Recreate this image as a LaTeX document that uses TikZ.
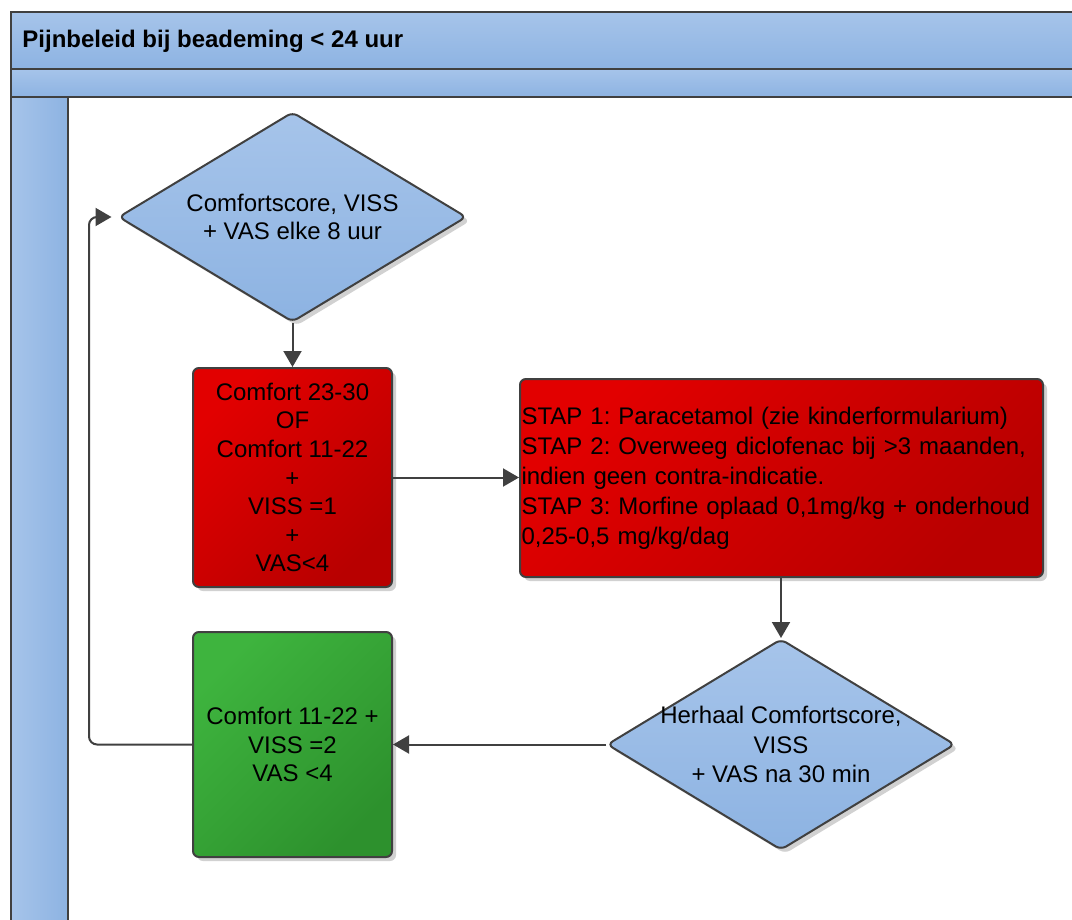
\documentclass[tikz,border=0pt]{standalone}
\usepackage{fontspec}
\setmainfont{Liberation Sans}
\usetikzlibrary{shapes.geometric,arrows.meta,shadows}
\definecolor{linegray}{RGB}{64,64,64}
\definecolor{bandtop}{RGB}{166,196,234}
\definecolor{bandbot}{RGB}{141,179,226}
\definecolor{redtop}{RGB}{226,0,0}
\definecolor{redbot}{RGB}{184,0,0}
\definecolor{greentop}{RGB}{62,180,62}
\definecolor{greenbot}{RGB}{45,145,45}
\tikzset{
    band/.style={draw=linegray, line width=1pt},
    shapebase/.style={draw=linegray, line width=1pt, align=center,
        font=\fontsize{12}{14.3}\selectfont,
        drop shadow={shadow xshift=2pt, shadow yshift=-2pt, opacity=.18, fill=black}},
    decision/.style={shapebase, diamond, rounded corners=3pt, top color=bandtop, bottom color=bandbot,
        inner xsep=-40pt, inner ysep=0pt, minimum width=174pt, minimum height=105pt},
    redbox/.style={shapebase, rectangle, rounded corners=3pt, top color=redtop, bottom color=redbot,
        shading angle=45, inner sep=2pt},
    greenbox/.style={shapebase, rectangle, rounded corners=3pt, top color=greentop, bottom color=greenbot,
        shading angle=45, inner sep=2pt},
    arrow/.style={draw=linegray, line width=1pt, -{Triangle[length=8pt,width=9pt]}}
}
\frenchspacing
\begin{document}
\begin{tikzpicture}[x=0.5pt,y=-0.5pt]
    \useasboundingbox (0,0) rectangle (1072,920);
    \clip (0,0) rectangle (1072,920);
    \foreach \xa/\ya/\xb/\yb in {11/12/1100/69, 11/69/1100/97} {
        \shadedraw[band, top color=bandtop, bottom color=bandbot] (\xa,\ya) rectangle (\xb,\yb);
    }
    \shadedraw[band, left color=bandtop, right color=bandbot] (11,97) rectangle (68,940);
    \draw[band] (11,12) rectangle (1100,940);
    \node[anchor=west, inner sep=0pt, font=\fontsize{12}{14}\selectfont\bfseries] (title) at (22,41) {Pijnbeleid bij beademing < 24 uur};

    \node[decision] (check) at (292.5,217) {Comfortscore, VISS\\+ VAS elke 8 uur};
    \node[redbox, minimum width=99.5pt, minimum height=109.5pt] (pain) at (292.5,477.5)
        {Comfort 23-30\\OF\\Comfort 11-22\\+\\VISS =1\\+\\VAS<4};
    \node[redbox, minimum width=261.5pt, minimum height=99pt, text width=260pt, inner xsep=0.5pt,
        align=left, font=\fontsize{12}{15}\selectfont] (steps) at (781.5,478)
        {STAP 1: Paracetamol (zie kinderformularium)\\
         STAP 2: Overweeg diclofenac bij >3 maanden,\\
         indien geen contra-indicatie.\\
         STAP 3: Morfine oplaad 0,1mg/kg + onderhoud\\
         0,25-0,5 mg/kg/dag};
    \node[decision, minimum height=105.5pt, font=\fontsize{12}{14.8}\selectfont] (recheck) at (781,744.5)
        {Herhaal Comfortscore,\\VISS\\+ VAS na 30 min};
    \node[greenbox, minimum width=99.5pt, minimum height=112.5pt] (ok) at (292.5,744.5)
        {Comfort 11-22 +\\VISS =2\\VAS <4};

    \draw[arrow] (check.south) -- (pain.north);
    \draw[arrow] (pain.east) -- (pain.east -| steps.west);
    \draw[arrow] (steps.south -| recheck.north) -- (recheck.north);
    \draw[arrow] (recheck.west) -- (ok.east);
    \draw[arrow, rounded corners=4pt, shorten >=3pt] (ok.west) -- ++(-103,0) |- (check.west);
\end{tikzpicture}
\end{document}
